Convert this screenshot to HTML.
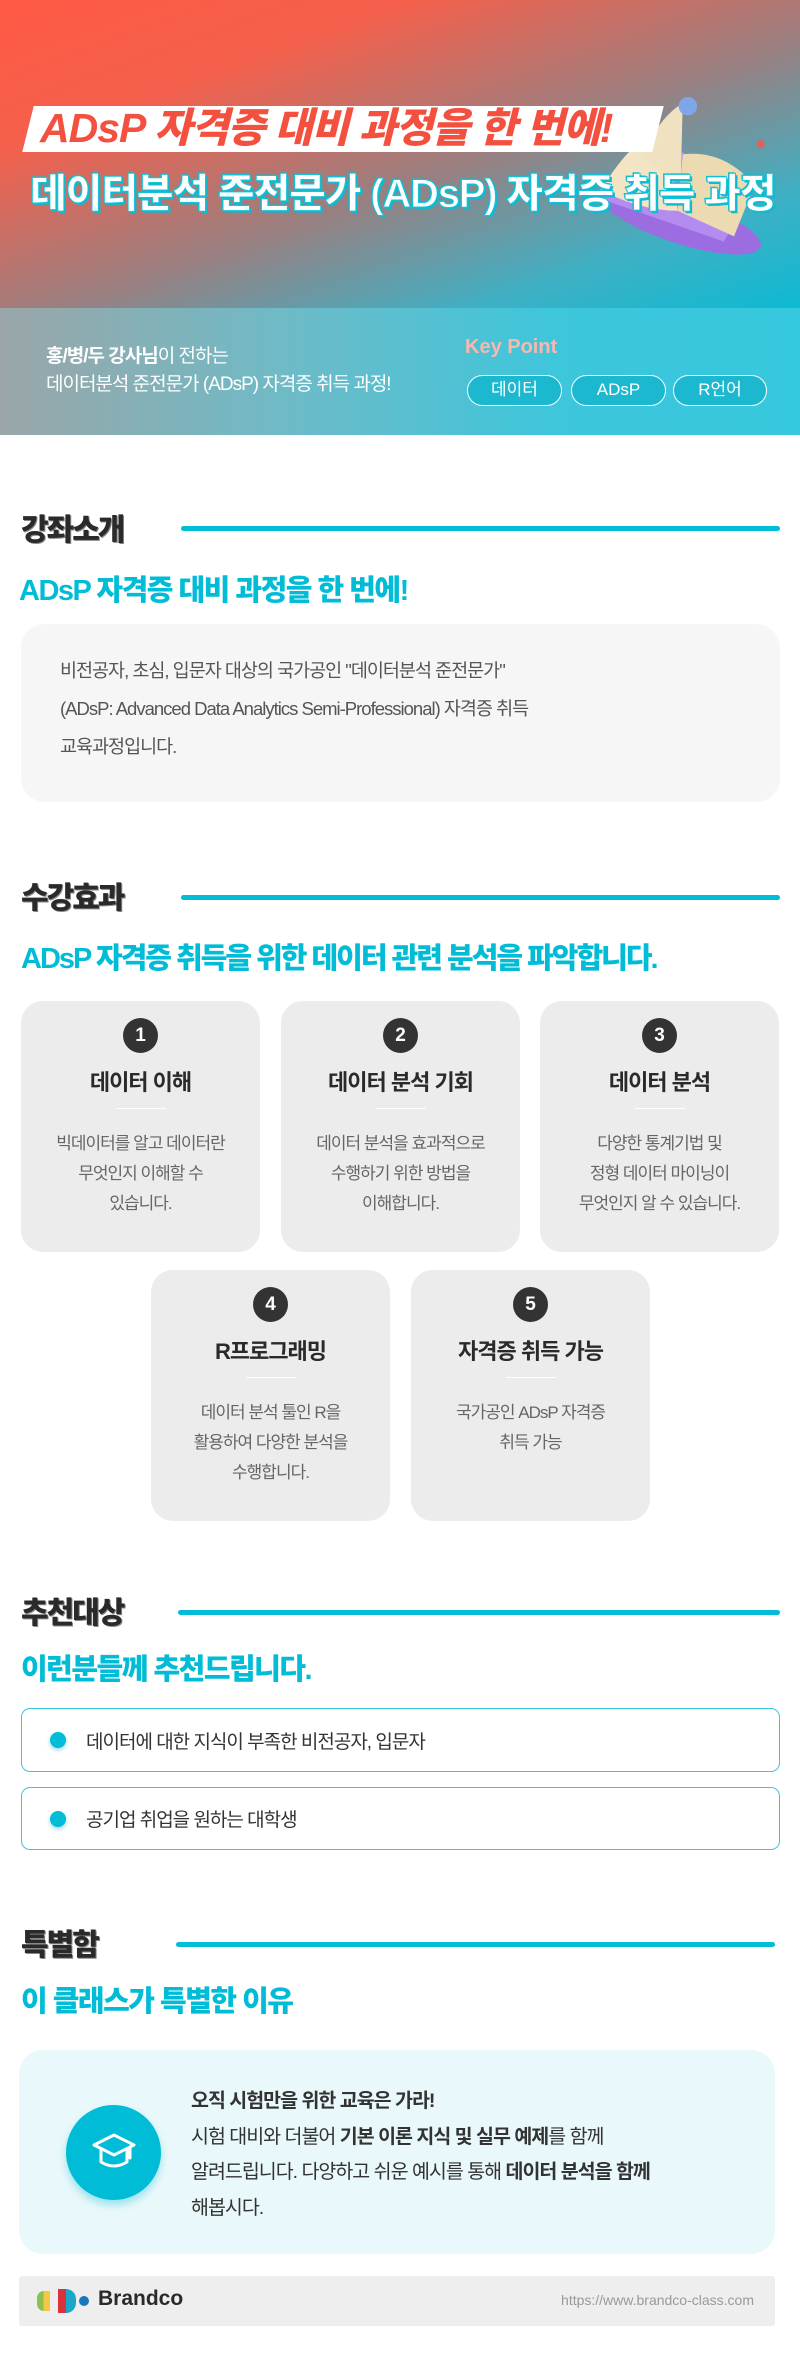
<!DOCTYPE html>
<html><head><meta charset="utf-8">
<style>
*{margin:0;padding:0;box-sizing:border-box}
body{width:800px;height:2370px;background:#fff;font-family:"Liberation Sans","Noto Sans CJK KR",sans-serif;position:relative;overflow:hidden;color:#333}
.a{position:absolute;white-space:nowrap}
.hdr{position:absolute;left:0;top:0;width:800px;height:310px;background:linear-gradient(160deg,#ff5a45 0%,#f4604c 25%,#9a7f80 55%,#3fb0c4 80%,#0cbad3 100%)}
.band{position:absolute;left:0;top:308px;width:800px;height:127px;background:linear-gradient(90deg,#9aa6a8 0%,#6fbac6 35%,#3dc6dc 70%,#36c8de 100%)}
.h2{font-size:30px;font-weight:900;color:#2a2a2a;letter-spacing:-2px;text-shadow:1px 1px 0 #888}
.line{position:absolute;height:5px;background:#00bcd6;border-radius:3px}
.sub{font-size:29px;font-weight:900;color:#00bcd6;letter-spacing:-1.5px}
.card{position:absolute;width:239px;height:251px;background:#ececec;border-radius:22px;text-align:center}
.num{position:absolute;left:102px;top:17px;width:35px;height:35px;border-radius:50%;background:#333;color:#fff;font-weight:700;font-size:19px;line-height:35px}
.ct{position:absolute;left:0;right:0;top:64px;font-size:22px;font-weight:700;color:#2a2a2a;letter-spacing:-1px}
.dv{position:absolute;left:95px;width:50px;top:107px;border-top:1px solid #fff}
.cd{position:absolute;left:0;right:0;top:128px;font-size:17px;color:#666;line-height:30px;letter-spacing:-1px}
.li{position:absolute;left:21px;width:759px;border:1.5px solid #3cc6dc;border-radius:9px;background:#fff}
.dot{position:absolute;left:28px;width:16px;height:16px;border-radius:50%;background:#00bcd6;box-shadow:0 2px 4px rgba(0,150,180,.4)}
.lt{position:absolute;left:64px;font-size:19px;color:#333;letter-spacing:-1px}
.pill{position:absolute;top:375px;height:31px;border:1.5px solid #fff;border-radius:16px;color:#fff;font-size:17px;text-align:center;line-height:28px;background:#1cb8d0}
</style></head><body>
<div class="hdr"></div>
<!-- book -->
<svg class="a" style="left:570px;top:95px" width="205" height="170" viewBox="0 0 200 160">
<ellipse cx="108" cy="120" rx="82" ry="22" fill="#9b6de0" transform="rotate(18 108 120)"/>
<path d="M20 95 L95 45 L180 90 L150 140 Z" fill="#b48cf0"/>
<path d="M30 90 Q60 40 95 25 L105 110 Q70 110 30 90Z" fill="#f3e5c4"/>
<path d="M105 110 L110 55 Q150 50 180 85 L160 135 Z" fill="#ecdab0"/>
<path d="M70 60 Q85 20 110 5 L108 80 Z" fill="#f0e2c0"/>
<circle cx="115" cy="8" r="9" fill="#7fa6e8"/>
<circle cx="186" cy="45" r="4" fill="#e06060"/>
</svg>
<div class="a" style="left:28px;top:106px;width:630px;height:46px;background:#fff;transform:skewX(-14deg)"></div>
<div class="a" style="left:40px;top:100px;font-size:41px;font-weight:900;color:#f4503f;font-style:italic;letter-spacing:-1px;line-height:56px">ADsP 자격증 대비 과정을 한 번에!</div>
<div class="a" style="left:30px;top:167px;font-size:40px;font-weight:900;color:#fff;letter-spacing:-1.2px;line-height:54px;-webkit-text-stroke:1px #14c4d8;text-shadow:2px 2px 0 #10b8d0,-1px -1px 0 #10b8d0">데이터분석 준전문가 (ADsP) 자격증 취득 과정</div>
<div class="band"></div>
<div class="a" style="left:46px;top:343px;font-size:19px;color:#fff;letter-spacing:-1px;line-height:28px"><b>홍/병/두 강사님</b>이 전하는<br>데이터분석 준전문가 (ADsP) 자격증 취득 과정!</div>
<div class="a" style="left:465px;top:336px;font-size:20px;font-weight:700;color:#f7b8ae">Key Point</div>
<div class="pill" style="left:467px;width:95px">데이터</div>
<div class="pill" style="left:571px;width:95px">ADsP</div>
<div class="pill" style="left:673px;width:94px">R언어</div>

<!-- 강좌소개 -->
<div class="a h2" style="left:21px;top:505px">강좌소개</div>
<div class="line" style="left:181px;top:526px;width:599px"></div>
<div class="a sub" style="left:19px;top:567px">ADsP 자격증 대비 과정을 한 번에!</div>
<div class="a" style="left:21px;top:624px;width:759px;height:178px;background:#f6f6f6;border-radius:24px"></div>
<div class="a" style="left:60px;top:652px;font-size:18.5px;color:#555;line-height:38px;letter-spacing:-1px">비전공자, 초심, 입문자 대상의 국가공인 "데이터분석 준전문가"<br>(ADsP: Advanced Data Analytics Semi-Professional) 자격증 취득<br>교육과정입니다.</div>

<!-- 수강효과 -->
<div class="a h2" style="left:21px;top:873px">수강효과</div>
<div class="line" style="left:181px;top:895px;width:599px"></div>
<div class="a sub" style="left:21px;top:935px;letter-spacing:-2px">ADsP 자격증 취득을 위한 데이터 관련 분석을 파악합니다.</div>

<div class="card" style="left:21px;top:1001px"><div class="num">1</div><div class="ct">데이터 이해</div><div class="dv"></div><div class="cd">빅데이터를 알고 데이터란<br>무엇인지 이해할 수<br>있습니다.</div></div>
<div class="card" style="left:281px;top:1001px"><div class="num">2</div><div class="ct">데이터 분석 기회</div><div class="dv"></div><div class="cd">데이터 분석을 효과적으로<br>수행하기 위한 방법을<br>이해합니다.</div></div>
<div class="card" style="left:540px;top:1001px"><div class="num">3</div><div class="ct">데이터 분석</div><div class="dv"></div><div class="cd">다양한 통계기법 및<br>정형 데이터 마이닝이<br>무엇인지 알 수 있습니다.</div></div>
<div class="card" style="left:151px;top:1270px"><div class="num">4</div><div class="ct">R프로그래밍</div><div class="dv"></div><div class="cd">데이터 분석 툴인 R을<br>활용하여 다양한 분석을<br>수행합니다.</div></div>
<div class="card" style="left:411px;top:1270px"><div class="num">5</div><div class="ct">자격증 취득 가능</div><div class="dv"></div><div class="cd">국가공인 ADsP 자격증<br>취득 가능</div></div>

<!-- 추천대상 -->
<div class="a h2" style="left:21px;top:1588px">추천대상</div>
<div class="line" style="left:178px;top:1610px;width:602px"></div>
<div class="a sub" style="left:21px;top:1646px">이런분들께 추천드립니다.</div>
<div class="li" style="top:1708px;height:64px"><div class="dot" style="top:23px"></div><div class="lt" style="top:18px">데이터에 대한 지식이 부족한 비전공자, 입문자</div></div>
<div class="li" style="top:1787px;height:63px"><div class="dot" style="top:23px"></div><div class="lt" style="top:17px">공기업 취업을 원하는 대학생</div></div>

<!-- 특별함 -->
<div class="a h2" style="left:21px;top:1920px">특별함</div>
<div class="line" style="left:176px;top:1942px;width:599px"></div>
<div class="a sub" style="left:21px;top:1978px">이 클래스가 특별한 이유</div>
<div class="a" style="left:19px;top:2050px;width:756px;height:204px;background:#e9f8fa;border-radius:24px"></div>
<div class="a" style="left:66px;top:2105px;width:95px;height:95px;border-radius:50%;background:#00bcd6;box-shadow:0 5px 8px rgba(0,188,214,.35)"></div>
<svg class="a" style="left:90px;top:2130px" width="48" height="45" viewBox="0 0 48 45" fill="none" stroke="#fff" stroke-width="3" stroke-linecap="round" stroke-linejoin="round">
<path d="M4 15 L24 5 L44 15 L24 25 Z"/><path d="M11 19 V32 Q24 40 37 32 V19"/><path d="M40 17 V28"/></svg>
<div class="a" style="left:191px;top:2084px;font-size:19.5px;color:#333;line-height:35.5px;letter-spacing:-1px"><b>오직 시험만을 위한 교육은 가라!</b><br>시험 대비와 더불어 <b>기본 이론 지식 및 실무 예제</b>를 함께<br>알려드립니다. 다양하고 쉬운 예시를 통해 <b>데이터 분석을 함께</b><br>해봅시다.</div>

<!-- footer -->
<div class="a" style="left:19px;top:2276px;width:756px;height:50px;background:#eeeeee;border-radius:3px"></div>
<div class="a" style="left:37px;top:2291px;width:13px;height:20px;border-radius:7px 0 0 7px;background:linear-gradient(90deg,#8cc152 50%,#f6c744 50%)"></div>
<div class="a" style="left:58px;top:2289px;width:8px;height:24px;background:#d9343b"></div>
<div class="a" style="left:66px;top:2289px;width:10px;height:24px;border-radius:0 12px 12px 0;background:#1aa8c8"></div>
<div class="a" style="left:79px;top:2296px;width:10px;height:10px;border-radius:50%;background:#1a78b8"></div>
<div class="a" style="left:98px;top:2287px;font-size:21px;font-weight:700;color:#2a2a2a">Brandco</div>
<div class="a" style="left:560px;top:2292px;width:194px;text-align:right;font-size:14px;color:#999">https://www.brandco-class.com</div>
</body></html>
